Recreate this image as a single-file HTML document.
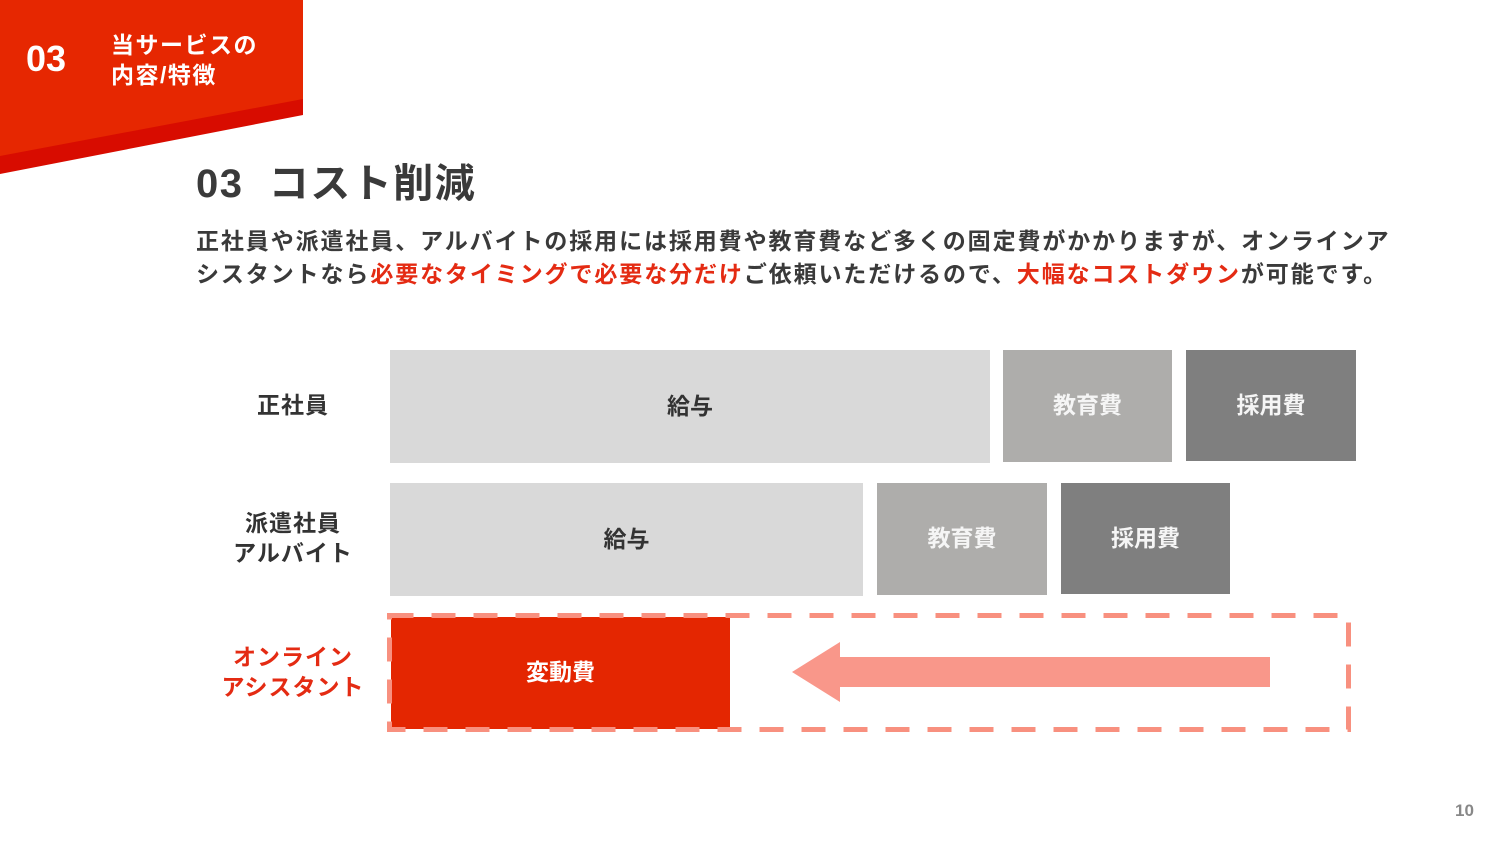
<!DOCTYPE html>
<html><head><meta charset="utf-8"><style>
body{margin:0;width:1500px;height:844px;background:#fff;position:relative;overflow:hidden;font-family:"Liberation Sans","Noto Sans CJK JP",sans-serif;}
.a{position:absolute;}
.box{position:absolute;display:flex;align-items:center;justify-content:center;font-size:23px;font-weight:bold;padding-bottom:6px;box-sizing:border-box;}
.lbl{position:absolute;font-size:23px;font-weight:bold;color:#333;text-align:center;line-height:30px;letter-spacing:1px;}
.r{color:#e42b13;}
</style></head><body>
<svg class="a" style="left:0;top:0" width="1500" height="844">
<polygon points="0,0 303,0 303,115 0,174" fill="#d80c00"/>
<polygon points="0,0 303,0 303,99 0,156" fill="#e62701"/>
<polygon points="792,672 840,642 840,657 1270,657 1270,687 840,687 840,702" fill="#f9978a"/>
</svg>
<div class="a" style="left:26px;top:38px;color:#fff;font-size:36px;font-weight:bold;">03</div>
<div class="a" style="left:111px;top:30px;color:#fff;font-size:23px;font-weight:bold;line-height:30px;letter-spacing:1.5px;">当サービスの<br>内容/特徴</div>
<div class="a" style="left:196px;top:151px;color:#3a3a3a;font-size:40px;font-weight:bold;letter-spacing:1.5px;">03&nbsp; コスト削減</div>
<div class="a" style="left:196px;top:225px;color:#3a3a3a;font-size:23px;font-weight:bold;line-height:33px;letter-spacing:1.9px;white-space:nowrap;">正社員や派遣社員、アルバイトの採用には採用費や教育費など多くの固定費がかかりますが、オンラインア<br>シスタントなら<span class="r">必要なタイミングで必要な分だけ</span>ご依頼いただけるので、<span class="r">大幅なコストダウン</span>が可能です。</div>

<div class="lbl" style="left:233px;top:390px;width:120px;">正社員</div>
<div class="lbl" style="left:213px;top:508px;width:160px;">派遣社員<br>アルバイト</div>
<div class="lbl r" style="left:203px;top:642px;width:180px;">オンライン<br>アシスタント</div>

<div class="box" style="left:390px;top:350px;width:600px;height:113px;background:#d9d9d9;color:#333;">給与</div>
<div class="box" style="left:1003px;top:350px;width:169px;height:112px;background:#aeadab;color:#f5f5f5;">教育費</div>
<div class="box" style="left:1186px;top:350px;width:170px;height:111px;background:#7f7f7f;color:#f5f5f5;">採用費</div>

<div class="box" style="left:390px;top:483px;width:473px;height:113px;background:#d9d9d9;color:#333;">給与</div>
<div class="box" style="left:877px;top:483px;width:170px;height:112px;background:#aeadab;color:#f5f5f5;">教育費</div>
<div class="box" style="left:1061px;top:483px;width:169px;height:111px;background:#7f7f7f;color:#f5f5f5;">採用費</div>

<div class="box" style="left:391px;top:617px;width:339px;height:112px;background:#e42601;color:#fff;">変動費</div>
<svg class="a" style="left:0;top:0" width="1500" height="844">
<rect x="389.5" y="615.5" width="959" height="114" fill="none" stroke="#f8907f" stroke-width="5" stroke-dasharray="24,18"/>
</svg>
<div class="a" style="left:1455px;top:801px;color:#888;font-size:17px;font-weight:bold;">10</div>
</body></html>
